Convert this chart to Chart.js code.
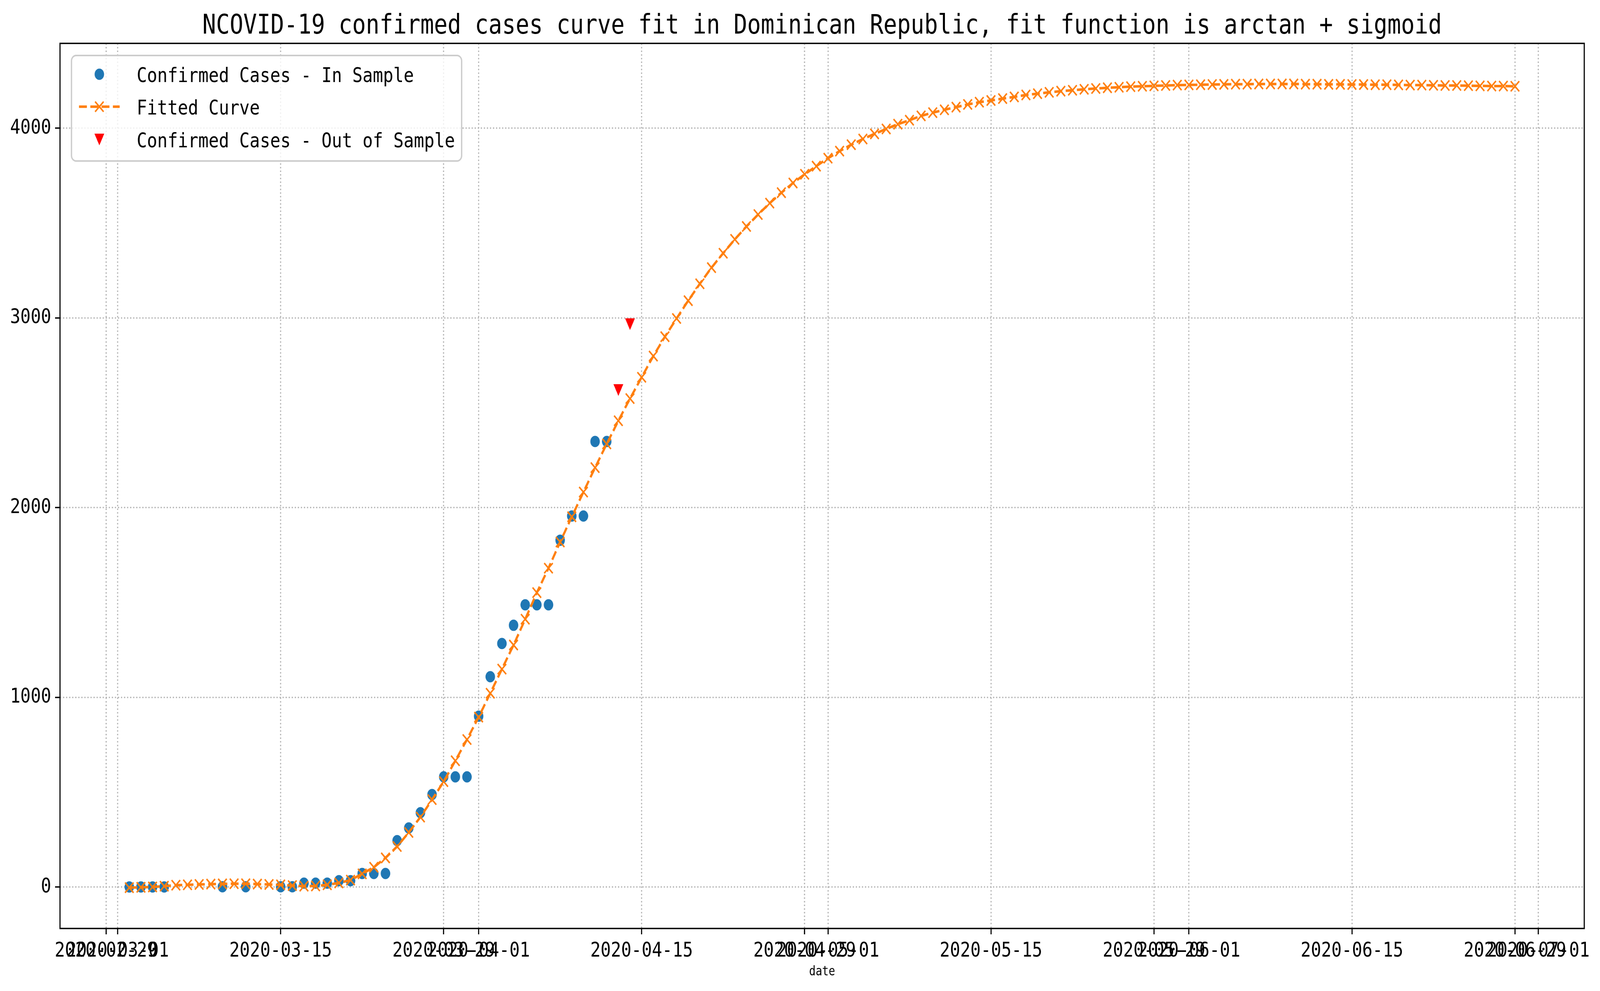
<!DOCTYPE html>
<html>
<head>
<meta charset="utf-8">
<title>NCOVID-19 confirmed cases curve fit in Dominican Republic</title>
<script src="https://cdn.jsdelivr.net/npm/chart.js@4.4.1/dist/chart.umd.min.js"></script>
<style>
  html, body { margin: 0; padding: 0; background: #fff; overflow: hidden; }
  /* the chart is laid out on a 4880 x 2536 bitmap and shown over the whole viewport */
  #fitChart { display: block; width: 100vw !important; height: 100vh !important; }
</style>
</head>
<body>
<canvas id="fitChart" width="4880" height="2536"></canvas>
<script>
// days are counted from 2020-03-01 (day 0)
const tickDays = [-1, 0, 14, 28, 31, 45, 59, 61, 75, 89, 92, 106, 120, 122];
const tickLabels = ['2020-02-29', '2020-03-01', '2020-03-15', '2020-03-29', '2020-04-01',
    '2020-04-15', '2020-04-29', '2020-05-01', '2020-05-15', '2020-05-29', '2020-06-01',
    '2020-06-15', '2020-06-29', '2020-07-01'];
const yTicks = [0, 1000, 2000, 3000, 4000];

const inSampleDays = [1, 2, 3, 4, 9, 11, 14, 15, 16, 17, 18, 19, 20, 21, 22, 23, 24, 25, 26,
    27, 28, 29, 30, 31, 32, 33, 34, 35, 36, 37, 38, 39, 40, 41, 42];
const inSampleCases = [1, 1, 1, 1, 2, 2, 2, 2, 21, 21, 21, 34, 34, 72, 72, 72, 245, 312, 392,
    488, 581, 581, 581, 901, 1109, 1284, 1380, 1488, 1488, 1488, 1828, 1956, 1956, 2349, 2349];

const outSampleDays = [43, 44];
const outSampleCases = [2620, 2967];

// fitted curve, one value per day from day 1 (2020-03-02) to day 120 (2020-06-29)
const fitStartDay = 1;
const fitCurve = [
    -3, -1, 1, 5, 10, 12, 14, 16, 17, 18,
    18, 16, 14, 12, 8, 5, 6, 12, 22, 37,
    70, 105, 154, 214, 288, 369, 461, 556, 666, 778,
    896, 1022, 1149, 1276, 1412, 1552, 1681, 1819, 1952, 2082,
    2211, 2336, 2458, 2575, 2687, 2799, 2901, 2997, 3091, 3180,
    3265, 3341, 3414, 3482, 3545, 3605, 3660, 3711, 3757, 3800,
    3842, 3879, 3913, 3943, 3970, 3996, 4021, 4042, 4065, 4082,
    4097, 4111, 4125, 4137, 4146, 4156, 4165, 4175, 4182, 4189,
    4195, 4200, 4205, 4209, 4213, 4216, 4219, 4221, 4223, 4225,
    4227, 4228, 4229, 4230, 4231, 4232, 4232, 4233, 4233, 4233,
    4233, 4232, 4232, 4231, 4231, 4230, 4230, 4229, 4229, 4228,
    4227, 4227, 4226, 4225, 4225, 4224, 4223, 4222, 4222, 4221
];

const titleText = 'NCOVID-19 confirmed cases curve fit in Dominican Republic, fit function is arctan + sigmoid';
const legendLabels = ['Confirmed Cases - In Sample', 'Fitted Curve', 'Confirmed Cases - Out of Sample'];

const BLUE = '#1f77b4';
const ORANGE = '#ff7f0e';
const RED = '#ff0000';
const FONT = '"DejaVu Sans Mono", monospace';

// matplotlib style 'v' marker (isosceles, pointing down)
function makeTriangle(size, color) {
    const c = document.createElement('canvas');
    c.width = size;
    c.height = size;
    const g = c.getContext('2d');
    g.fillStyle = color;
    g.beginPath();
    g.moveTo(1, 1);
    g.lineTo(size - 1, 1);
    g.lineTo(size / 2, size - 1);
    g.closePath();
    g.fill();
    return c;
}

function roundRectPath(ctx, x, y, w, h, r) {
    ctx.beginPath();
    ctx.moveTo(x + r, y);
    ctx.arcTo(x + w, y, x + w, y + h, r);
    ctx.arcTo(x + w, y + h, x, y + h, r);
    ctx.arcTo(x, y + h, x, y, r);
    ctx.arcTo(x, y, x + w, y, r);
    ctx.closePath();
}

const decorPlugin = {
    id: 'decor',
    afterDraw(chart) {
        const ctx = chart.ctx;
        const area = chart.chartArea;
        ctx.save();

        // axes frame
        ctx.strokeStyle = '#000';
        ctx.lineWidth = 3.5;
        ctx.strokeRect(area.left, area.top, area.right - area.left, area.bottom - area.top);

        // title
        ctx.fillStyle = '#000';
        ctx.font = '69px ' + FONT;
        ctx.textAlign = 'center';
        ctx.textBaseline = 'alphabetic';
        ctx.fillText(titleText, (area.left + area.right) / 2, 86);

        // legend box
        roundRectPath(ctx, 218, 142, 1190, 270, 14);
        ctx.fillStyle = 'rgba(255,255,255,0.8)';
        ctx.fill();
        ctx.strokeStyle = '#cccccc';
        ctx.lineWidth = 4;
        ctx.stroke();

        const rows = [190, 273, 357];
        const mx = 303;

        ctx.fillStyle = BLUE;
        ctx.beginPath();
        ctx.arc(mx, rows[0], 14.5, 0, Math.PI * 2);
        ctx.fill();

        ctx.strokeStyle = ORANGE;
        ctx.lineWidth = 6.5;
        ctx.setLineDash([24, 10.4]);
        ctx.beginPath();
        ctx.moveTo(241, rows[1]);
        ctx.lineTo(365, rows[1]);
        ctx.stroke();
        ctx.setLineDash([]);
        ctx.lineWidth = 4.3;
        ctx.beginPath();
        ctx.moveTo(mx - 13, rows[1] - 13);
        ctx.lineTo(mx + 13, rows[1] + 13);
        ctx.moveTo(mx + 13, rows[1] - 13);
        ctx.lineTo(mx - 13, rows[1] + 13);
        ctx.stroke();

        ctx.fillStyle = RED;
        ctx.beginPath();
        ctx.moveTo(mx - 15, rows[2] - 15);
        ctx.lineTo(mx + 15, rows[2] - 15);
        ctx.lineTo(mx, rows[2] + 15);
        ctx.closePath();
        ctx.fill();

        ctx.fillStyle = '#000';
        ctx.font = '52px ' + FONT;
        ctx.textAlign = 'left';
        legendLabels.forEach((t, i) => ctx.fillText(t, 417, rows[i] + 20));

        ctx.restore();
    }
};

function buildChart() {
    const ctx = document.getElementById('fitChart').getContext('2d');
    const gridCommon = {
        color: '#b0b0b0',
        lineWidth: 3.5,
        tickLength: 15,
        tickColor: '#000',
        tickWidth: 3.5,
        tickBorderDash: []
    };
    const borderCommon = { display: false, dash: [3.5, 5.8] };

    new Chart(ctx, {
        type: 'line',
        data: {
            datasets: [
                {
                    label: legendLabels[0],
                    data: inSampleDays.map((d, i) => ({ x: d, y: inSampleCases[i] })),
                    showLine: false,
                    pointStyle: 'circle',
                    pointRadius: 14.5,
                    pointBorderWidth: 0,
                    pointBackgroundColor: BLUE,
                    order: 3
                },
                {
                    label: legendLabels[1],
                    data: fitCurve.map((v, i) => ({ x: fitStartDay + i, y: v })),
                    borderColor: ORANGE,
                    borderWidth: 6.5,
                    borderDash: [24, 10.4],
                    tension: 0,
                    fill: false,
                    pointStyle: 'crossRot',
                    pointRadius: 18.4,
                    pointBorderWidth: 4.3,
                    pointBorderColor: ORANGE,
                    pointBackgroundColor: ORANGE,
                    order: 2
                },
                {
                    label: legendLabels[2],
                    data: outSampleDays.map((d, i) => ({ x: d, y: outSampleCases[i] })),
                    showLine: false,
                    pointStyle: makeTriangle(32, RED),
                    pointRadius: 16,
                    order: 1
                }
            ]
        },
        options: {
            responsive: false,
            devicePixelRatio: 1,
            animation: false,
            layout: { padding: { top: 111, right: 48, bottom: 0, left: 0 } },
            plugins: {
                legend: { display: false },
                tooltip: { enabled: false },
                title: { display: false }
            },
            scales: {
                x: {
                    type: 'linear',
                    min: -4.95,
                    max: 125.95,
                    grid: gridCommon,
                    border: borderCommon,
                    afterBuildTicks(scale) {
                        scale.ticks = tickDays.map(v => ({ value: v }));
                    },
                    afterFit(scale) {
                        scale.height = 160;
                    },
                    ticks: {
                        autoSkip: false,
                        maxRotation: 0,
                        minRotation: 0,
                        padding: 12,
                        color: '#000',
                        font: { family: FONT, size: 52 },
                        callback(value) {
                            const k = tickDays.indexOf(value);
                            return k >= 0 ? tickLabels[k] : '';
                        }
                    },
                    title: {
                        display: true,
                        text: 'date',
                        color: '#000',
                        font: { family: FONT, size: 33 },
                        padding: { top: 0, bottom: 29 }
                    }
                },
                y: {
                    type: 'linear',
                    min: -218,
                    max: 4447,
                    grid: gridCommon,
                    border: borderCommon,
                    afterBuildTicks(scale) {
                        scale.ticks = yTicks.map(v => ({ value: v }));
                    },
                    afterFit(scale) {
                        scale.width = 183;
                    },
                    ticks: {
                        padding: 12,
                        color: '#000',
                        font: { family: FONT, size: 52 },
                        callback(value) {
                            return String(value);
                        }
                    }
                }
            }
        },
        plugins: [decorPlugin]
    });
}

const ready = document.fonts && document.fonts.load
    ? document.fonts.load('52px "DejaVu Sans Mono"')
    : Promise.resolve();
ready.then(buildChart, buildChart);
</script>
</body>
</html>
